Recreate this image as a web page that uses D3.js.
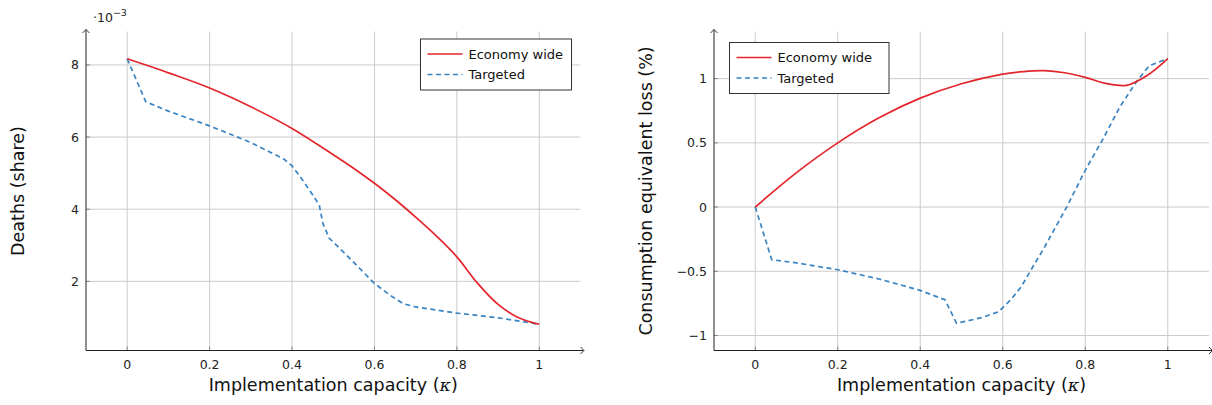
<!DOCTYPE html>
<html>
<head>
<meta charset="utf-8">
<script src="https://cdn.jsdelivr.net/npm/d3@7"></script>
<style>
  body { margin: 0; background: #fff; }
  svg { display: block; font-family: "DejaVu Sans", sans-serif; }
  .tick-label { font-size: 12.5px; fill: #222; }
  .axis-title { font-size: 17.5px; fill: #111; }
  .legend-text { font-size: 13px; fill: #111; }
</style>
</head>
<body>
<div id="chart"></div>
<script>
// --- data ---
const kappaTicks = [0, 0.2, 0.4, 0.6, 0.8, 1];
const kappaTickLabels = ["0", "0.2", "0.4", "0.6", "0.8", "1"];

const deathsTicks = [2, 4, 6, 8];
const deathsTickLabels = ["2", "4", "6", "8"];

const lossTicks = [-1, -0.5, 0, 0.5, 1];
const lossTickLabels = ["\u22121", "\u22120.5", "0", "0.5", "1"];

const seriesNames = ["Economy wide", "Targeted"];

// deaths (share, x10^-3) vs kappa
const deathsEconomy = [
  [0, 8.17], [0.1, 7.78], [0.2, 7.36], [0.3, 6.84], [0.4, 6.24],
  [0.5, 5.51], [0.55, 5.13], [0.6, 4.72], [0.65, 4.27], [0.7, 3.78],
  [0.75, 3.26], [0.8, 2.68], [0.85, 1.95], [0.9, 1.36], [0.95, 0.99], [1, 0.81]
];
const deathsTargeted = [
  [0, 8.17], [0.045, 6.98], [0.1, 6.72], [0.2, 6.31], [0.3, 5.85],
  [0.38, 5.39], [0.4, 5.2], [0.42, 4.9], [0.447, 4.45], [0.466, 4.12],
  [0.475, 3.6], [0.49, 3.2], [0.54, 2.64], [0.6, 1.94], [0.64, 1.6],
  [0.67, 1.38], [0.7, 1.29], [0.8, 1.12], [0.9, 0.99], [1, 0.81]
];

// consumption equivalent loss (%) vs kappa
const lossEconomy = [
  [0, 0], [0.1, 0.268], [0.2, 0.5], [0.3, 0.695], [0.4, 0.848],
  [0.5, 0.96], [0.6, 1.035], [0.65, 1.055], [0.7, 1.062], [0.75, 1.046],
  [0.8, 1.01], [0.85, 0.963], [0.9, 0.948], [0.95, 1.025], [1, 1.156]
];
const lossTargeted = [
  [0, 0], [0.04, -0.41], [0.1, -0.435], [0.2, -0.488], [0.3, -0.56],
  [0.4, -0.649], [0.46, -0.722], [0.488, -0.905], [0.55, -0.86], [0.59, -0.815],
  [0.62, -0.72], [0.645, -0.62], [0.666, -0.503], [0.7, -0.32], [0.755, 0],
  [0.8, 0.286], [0.844, 0.536], [0.884, 0.78], [0.925, 0.98], [0.955, 1.1], [1, 1.156]
];

const width = 1212;
const height = 405;
const red = "#e4262c";
const blue = "#3a84c4";

const svg = d3.select("#chart")
  .append("svg")
  .attr("width", width)
  .attr("height", height);

function drawPanel(opts) {
  const x = d3.scaleLinear().domain([-0.1, 1.1]).range(opts.xRange);
  const y = d3.scaleLinear().domain(opts.yDomain).range(opts.yRange);
  const g = svg.append("g");
  const [x0, x1] = opts.xRange;
  const [yb, yt] = opts.yRange;

  // grid
  g.selectAll(".vgrid").data(kappaTicks).enter().append("line")
    .attr("x1", d => x(d)).attr("x2", d => x(d))
    .attr("y1", yb).attr("y2", yt)
    .attr("stroke", "#cbcbcb").attr("stroke-width", 1);
  g.selectAll(".hgrid").data(opts.yTicks).enter().append("line")
    .attr("x1", x0).attr("x2", x1)
    .attr("y1", d => y(d)).attr("y2", d => y(d))
    .attr("stroke", "#cbcbcb").attr("stroke-width", 1);

  // small tick marks
  g.selectAll(".xt").data(kappaTicks).enter().append("line")
    .attr("x1", d => x(d)).attr("x2", d => x(d))
    .attr("y1", yb).attr("y2", yb - 4)
    .attr("stroke", "#888");
  g.selectAll(".yt").data(opts.yTicks).enter().append("line")
    .attr("x1", x0).attr("x2", x0 + 4)
    .attr("y1", d => y(d)).attr("y2", d => y(d))
    .attr("stroke", "#888");

  // axes with arrow tips
  g.append("path")
    .attr("d", `M${x0},${yt - 2}V${yb}H${x1 + 3}`)
    .attr("fill", "none").attr("stroke", "#222").attr("stroke-width", 1);
  g.append("path")
    .attr("d", `M${x1},${yb - 3.5}L${x1 + 3.5},${yb}L${x1},${yb + 3.5}`)
    .attr("fill", "none").attr("stroke", "#222").attr("stroke-width", 0.9);
  g.append("path")
    .attr("d", `M${x0 - 3.5},${yt + 1.5}L${x0},${yt - 2}L${x0 + 3.5},${yt + 1.5}`)
    .attr("fill", "none").attr("stroke", "#222").attr("stroke-width", 0.9);

  // tick labels
  g.selectAll(".xl").data(kappaTicks).enter().append("text")
    .attr("class", "tick-label")
    .attr("x", d => x(d)).attr("y", yb + 18)
    .attr("text-anchor", "middle")
    .text((d, i) => kappaTickLabels[i]);
  g.selectAll(".yl").data(opts.yTicks).enter().append("text")
    .attr("class", "tick-label")
    .attr("x", x0 - 7).attr("y", d => y(d) + 4.5)
    .attr("text-anchor", "end")
    .text((d, i) => opts.yTickLabels[i]);

  // axis titles
  const xt = g.append("text")
    .attr("class", "axis-title")
    .attr("x", (x(0) + x(1)) / 2).attr("y", yb + 40)
    .attr("text-anchor", "middle");
  xt.append("tspan").text("Implementation capacity (");
  xt.append("tspan").attr("font-style", "italic").attr("font-family", "DejaVu Serif").text("\u03ba");
  xt.append("tspan").text(")");

  g.append("text")
    .attr("class", "axis-title")
    .attr("transform", `translate(${opts.yTitleX},${(yb + yt) / 2}) rotate(-90)`)
    .attr("text-anchor", "middle")
    .text(opts.yTitle);

  // curves
  const line = d3.line().x(d => x(d[0])).y(d => y(d[1]));
  g.append("path")
    .datum(opts.targeted)
    .attr("d", line.curve(d3.curveLinear))
    .attr("fill", "none").attr("stroke", blue)
    .attr("stroke-width", 1.7).attr("stroke-dasharray", "5,3.5");
  g.append("path")
    .datum(opts.economy)
    .attr("d", line.curve(d3.curveCatmullRom.alpha(0.5)))
    .attr("fill", "none").attr("stroke", red)
    .attr("stroke-width", 1.7);

  // legend
  const lg = g.append("g").attr("transform", `translate(${opts.legend[0]},${opts.legend[1]})`);
  lg.append("rect")
    .attr("width", opts.legend[2]).attr("height", 51)
    .attr("fill", "#fff").attr("stroke", "#333").attr("stroke-width", 1);
  seriesNames.forEach((name, i) => {
    const ly = 15 + i * 20.5;
    lg.append("line")
      .attr("x1", 7).attr("x2", 42).attr("y1", ly).attr("y2", ly)
      .attr("stroke", i === 0 ? red : blue).attr("stroke-width", 1.7)
      .attr("stroke-dasharray", i === 0 ? null : "5,3.5");
    lg.append("text")
      .attr("class", "legend-text")
      .attr("x", 48).attr("y", ly + 4.5)
      .text(name);
  });
}

drawPanel({
  xRange: [86, 580.5],
  yDomain: [0.083, 8.927],
  yRange: [350.5, 31.5],
  yTicks: deathsTicks,
  yTickLabels: deathsTickLabels,
  yTitle: "Deaths (share)",
  yTitleX: 24,
  economy: deathsEconomy,
  targeted: deathsTargeted,
  legend: [420.5, 39, 151]
});

// ·10^-3 scale label
const sc = svg.append("text").attr("class", "tick-label").attr("x", 93).attr("y", 22);
sc.append("tspan").text("\u00b710");
sc.append("tspan").attr("dy", -6).attr("font-size", "9.5px").text("\u22123");

drawPanel({
  xRange: [714, 1209],
  yDomain: [-1.117, 1.367],
  yRange: [350.5, 31.5],
  yTicks: lossTicks,
  yTickLabels: lossTickLabels,
  yTitle: "Consumption equivalent loss (%)",
  yTitleX: 652,
  economy: lossEconomy,
  targeted: lossTargeted,
  legend: [729.5, 42.5, 159.5]
});
</script>
</body>
</html>
